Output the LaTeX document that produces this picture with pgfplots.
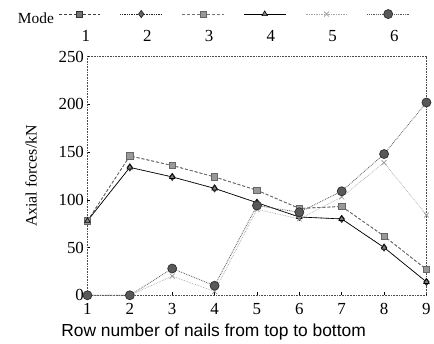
\documentclass[border=0pt]{standalone}
\usepackage{pgfplots}
\pgfplotsset{compat=1.18}
\usepackage{fontspec}
\setmainfont{Liberation Serif}
\newfontfamily\arialfont{Liberation Sans}
\pgfplotstableread{
x m1 m2 m3 m4 m5 m6
1 78 78 78 78 0 0
2 146 134 146 134 0 0
3 136 124 136 124 20 28
4 124 112 124 112 4 10
5 110 97 110 97 90 94
6 91 82 91 82 80 87
7 93 80 93 80 103 109
8 62 50 62 50 139 148
9 27 14 27 14 84 202
}\data
\begin{document}
\begin{tikzpicture}
\begin{axis}[
  scale only axis, width=341pt, height=240pt,
  xmin=1, xmax=9, ymin=0, ymax=250,
  xtick={1,...,9}, ytick={0,50,...,250},
  clip=false,
  axis line style={black!70, densely dotted, line width=0.6pt},
  tick style={black, line width=0.5pt},
  major tick length=3pt,
  tick align=inside,
  xtick pos=bottom, ytick pos=left,
  tick label style={font=\fontsize{17}{17}\selectfont},
  xticklabel style={yshift=-5pt},
  /pgf/number format/assume math mode=true,
  ylabel={\fontsize{16}{16}\selectfont Axial forces/kN},
  ylabel style={yshift=15pt},
  xlabel={\arialfont\fontsize{17.5}{17.5}\selectfont Row number of nails from top to bottom},
  xlabel style={at={(axis description cs:0.372,0)}, anchor=north, yshift=-25pt},
  legend columns=-1,
  legend style={draw=none, fill=none, inner sep=0pt,
    at={(axis description cs:-0.024,1.047)}, anchor=south west,
    font=\fontsize{17}{17}\selectfont,
    /tikz/every odd column/.style={column sep=0pt},
    /tikz/every even column/.style={column sep=49.6pt}},
  legend image code/.code={
    \draw[#1,overlay,mark repeat=2,mark phase=2] plot coordinates {(-21pt,23pt)(0pt,23pt)(21pt,23pt)};
  },
]
\addplot[black!75, densely dashed, line width=0.7pt, mark=square*, mark size=3.2pt, mark options={solid, fill=black!55, draw=black!80}] table[x=x,y=m1]{\data};
\addlegendentry{1}
\addplot[black!85, densely dotted, line width=0.7pt, mark=diamond*, mark size=3.6pt, mark options={solid, fill=black!60, draw=black!85}] table[x=x,y=m2]{\data};
\addlegendentry{2}
\addplot[black!55, densely dashed, line width=0.6pt, mark=square*, mark size=3.2pt, mark options={solid, fill=black!40, draw=black!60}] table[x=x,y=m3]{\data};
\addlegendentry{3}
\addplot[black, line width=0.6pt, mark=triangle*, mark size=3.2pt, mark options={solid, fill=black!50, draw=black}] table[x=x,y=m4]{\data};
\addlegendentry{4}
\addplot[black!35, densely dotted, line width=0.7pt, mark=x, mark size=3.5pt, mark options={solid, draw=black!40}] table[x=x,y=m5]{\data};
\addlegendentry{5}
\addplot[black!65, densely dotted, line width=0.8pt, mark=*, mark size=4.5pt, mark options={solid, fill=black!65, draw=black!80}] table[x=x,y=m6]{\data};
\addlegendentry{6}
\node[anchor=center, font=\fontsize{15.5}{15.5}\selectfont] at (axis description cs:-0.152,1.163) {Mode};
\coordinate (bl) at (axis description cs:-0.258,-0.196);
\coordinate (tr) at (axis description cs:1.0147,1.2375);
\end{axis}
\useasboundingbox (bl) rectangle (tr);
\end{tikzpicture}
\end{document}
